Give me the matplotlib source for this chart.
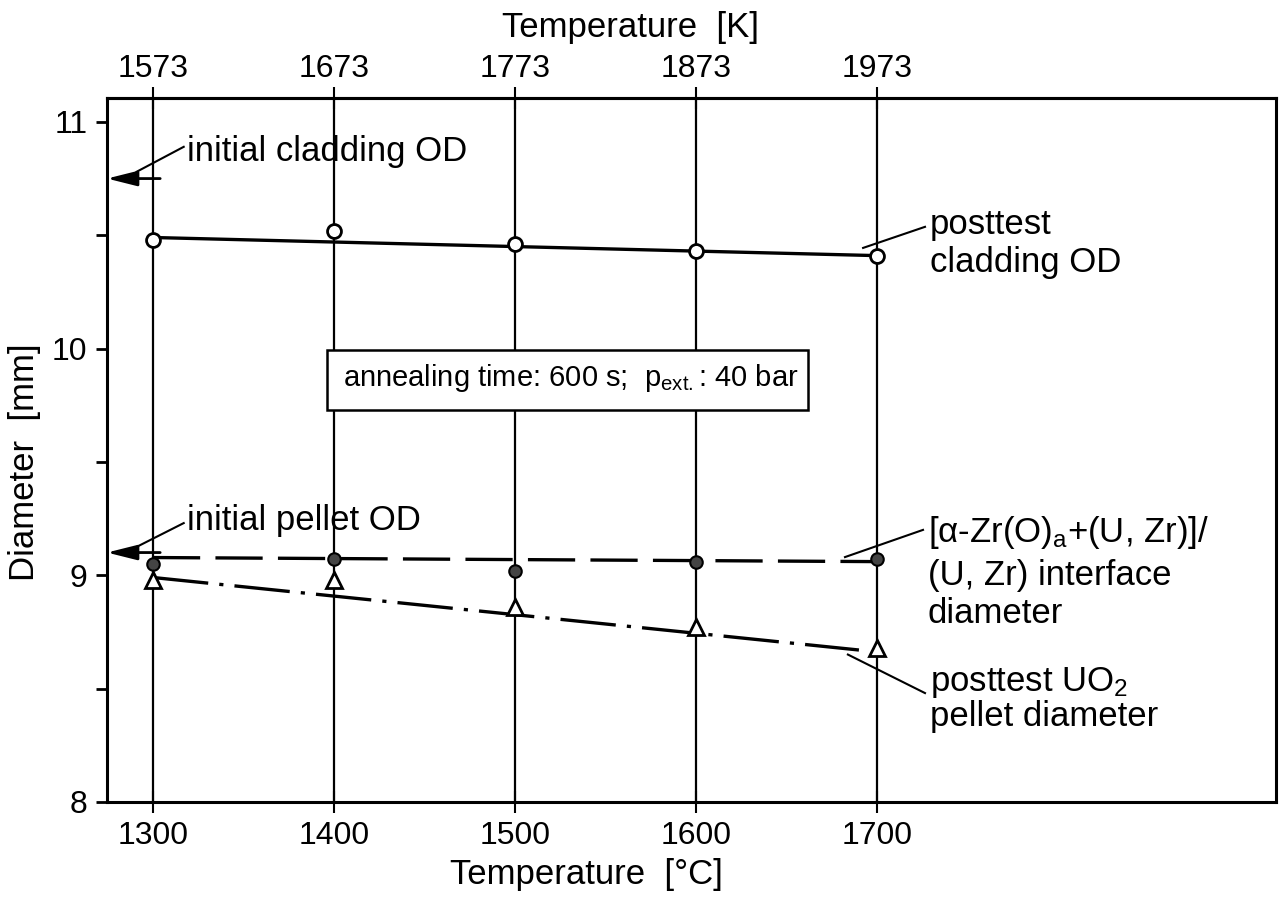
import matplotlib
matplotlib.use("Agg")
from matplotlib import pyplot as plt
from matplotlib.patches import Rectangle

plt.rcParams['font.family'] = ['Liberation Sans', 'DejaVu Sans']
plt.rcParams['mathtext.default'] = 'regular'
plt.rcParams['lines.scale_dashes'] = False

# temperatures of the annealing tests
temp_c = [1300, 1400, 1500, 1600, 1700]
temp_k_ticks = [1573, 1673, 1773, 1873, 1973]

# measured diameters [mm]
clad_od = [10.48, 10.52, 10.46, 10.43, 10.41]
interface_d = [9.05, 9.07, 9.02, 9.06, 9.07]
pellet_d = [8.98, 8.98, 8.86, 8.77, 8.68]

# fitted lines (end points)
clad_fit_x = [1300, 1700]
clad_fit_y = [10.49, 10.41]
interface_fit_x = [1300, 1700]
interface_fit_y = [9.078, 9.06]
pellet_fit_x = [1300, 1690]
pellet_fit_y = [8.99, 8.67]

initial_clad_od = 10.75
initial_pellet_od = 9.10

FS = 23     # tick labels
LFS = 25    # labels in the plot

fig = plt.figure(figsize=(12.81, 9.02), dpi=100)
ax = fig.add_axes([0.0835, 0.111, 0.9126, 0.7805])
ax.set_xlim(1274.6, 1920.4)
ax.set_ylim(8, 11.106)

# vertical lines at each test temperature
for t in temp_c:
    ax.axvline(t, color='k', lw=1.6, zorder=1)

ax.plot(clad_fit_x, clad_fit_y, color='k', lw=2.4, zorder=2)
ax.plot(interface_fit_x, interface_fit_y, color='k', lw=2.4, dashes=(34, 11), zorder=2)
ax.plot(pellet_fit_x, pellet_fit_y, color='k', lw=2.4, dashes=(40, 8, 3, 8), zorder=2)

ax.plot(temp_c, clad_od, 'o', ms=10, mfc='white', mec='k', mew=2, zorder=4)
ax.plot(temp_c, interface_d, 'o', ms=9, mfc='#444444', mec='k', mew=1.5, zorder=4)
ax.plot(temp_c, pellet_d, '^', ms=11, mfc='white', mec='k', mew=2, zorder=4)

# initial values, arrows onto the y axis
for yv in [initial_clad_od, initial_pellet_od]:
    ax.annotate('', xy=(1274.6, yv), xytext=(1304, yv),
                arrowprops=dict(arrowstyle='-|>,head_length=1.4,head_width=0.35',
                                color='k', lw=2, shrinkA=0, shrinkB=0,
                                mutation_scale=13), zorder=5)

ax.plot([1317, 1291], [10.89, 10.78], 'k-', lw=1.5)
ax.text(1319, 10.87, 'initial cladding OD', fontsize=LFS, va='center', ha='left')
ax.plot([1317, 1291], [9.23, 9.125], 'k-', lw=1.5)
ax.text(1319, 9.24, 'initial pellet OD', fontsize=LFS, va='center', ha='left')

ax.plot([1726.5, 1692.3], [10.537, 10.444], 'k-', lw=1.5)
ax.text(1729, 10.546, 'posttest', fontsize=LFS, va='center', ha='left')
ax.text(1729, 10.378, 'cladding OD', fontsize=LFS, va='center', ha='left')

ax.plot([1725.4, 1682.3], [9.20, 9.08], 'k-', lw=1.5)
ax.text(1728, 9.187, '[α-Zr(O)$_a$+(U, Zr)]/', fontsize=LFS, va='center', ha='left')
ax.text(1728, 9.0, '(U, Zr) interface', fontsize=LFS, va='center', ha='left')
ax.text(1728, 8.83, 'diameter', fontsize=LFS, va='center', ha='left')

ax.plot([1726.5, 1683.9], [8.48, 8.65], 'k-', lw=1.5)
ax.text(1729, 8.525, 'posttest UO$_2$', fontsize=LFS, va='center', ha='left')
ax.text(1729, 8.375, 'pellet diameter', fontsize=LFS, va='center', ha='left')

ax.add_patch(Rectangle((1396, 9.73), 266, 0.264, fc='white', ec='k', lw=1.8, zorder=3))
ax.text(1405, 9.87, 'annealing time: 600 s;  p$_{ext.}$: 40 bar', fontsize=21,
        va='center', ha='left', zorder=4)

for s in ax.spines.values():
    s.set_linewidth(2.2)

ax.set_xticks(temp_c)
ax.set_yticks([8, 9, 10, 11])
ax.set_yticks([8.5, 9.5, 10.5], minor=True)
ax.tick_params(axis='x', direction='inout', length=16, width=1.5, pad=6, labelsize=FS)
ax.tick_params(axis='y', which='both', direction='out', length=8, width=2, pad=6, labelsize=FS)

secax = ax.secondary_xaxis('top', functions=(lambda c: c + 273, lambda k: k - 273))
secax.set_xticks(temp_k_ticks)
secax.tick_params(direction='inout', length=16, width=1.5, pad=2, labelsize=FS)
secax.spines['top'].set_linewidth(2.2)
fig.text(630 / 1281, 1 - 28 / 902, 'Temperature  [K]', fontsize=LFS, ha='center', va='center')

ax.set_xlabel('Temperature  [°C]', fontsize=LFS)
ax.xaxis.set_label_coords(0.41, -0.08)
ax.set_ylabel('Diameter  [mm]', fontsize=LFS)
ax.yaxis.set_label_coords(-0.056, 0.483)

fig.savefig('out.png', dpi=100)
